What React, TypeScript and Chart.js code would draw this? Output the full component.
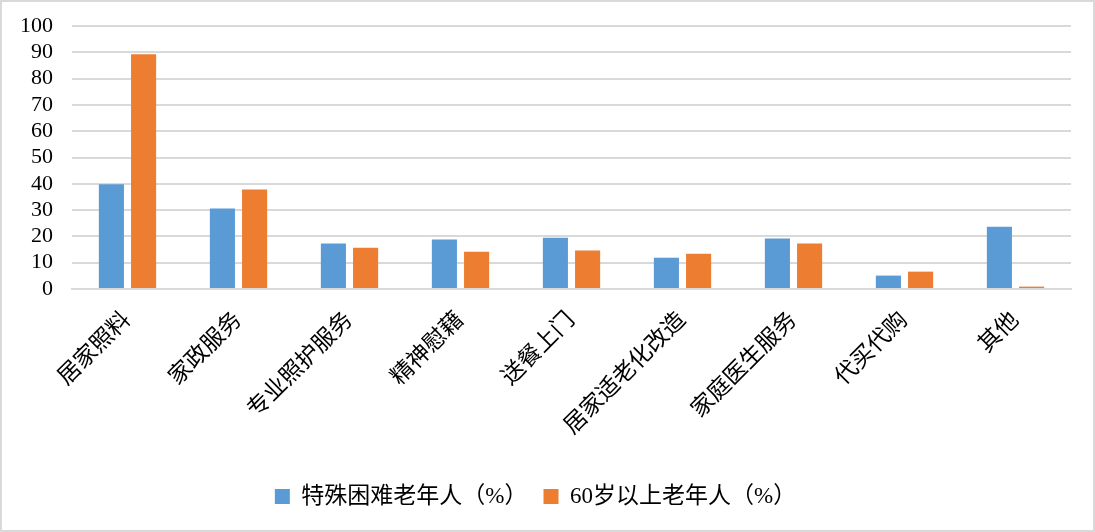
import React, { useEffect, useRef } from "react";
import { Chart, registerables } from "chart.js";

Chart.register(...registerables);

const categories = ["居家照料", "家政服务", "专业照护服务", "精神慰藉", "送餐上门", "居家适老化改造", "家庭医生服务", "代买代购", "其他"];
const seriesNames = ["特殊困难老年人（%）", "60岁以上老年人（%）"];
const specialNeeds = [39.8, 30.6, 17.3, 18.8, 19.5, 11.9, 19.2, 5.1, 23.7];
const over60 = [89.3, 37.8, 15.7, 14.2, 14.6, 13.4, 17.3, 6.6, 0.9];
const yTicks = [0, 10, 20, 30, 40, 50, 60, 70, 80, 90, 100];

const FONT = "'Liberation Serif', 'Times New Roman', 'Noto Sans CJK SC', serif";

const borderPlugin = {
  id: "outerBorder",
  afterDraw(chart: any) {
    const ctx = chart.ctx;
    ctx.save();
    ctx.strokeStyle = "#d9d9d9";
    ctx.lineWidth = 2;
    ctx.strokeRect(1, 1, chart.width - 2, chart.height - 2);
    ctx.restore();
  },
};

export default function App() {
  const ref = useRef<HTMLCanvasElement>(null);
  useEffect(() => {
    document.body.style.margin = "0";
    const chart = new Chart(ref.current!, {
      type: "bar",
      data: {
        labels: categories,
        datasets: [
          { label: seriesNames[0], data: specialNeeds, backgroundColor: "#5B9BD5", barPercentage: 0.78, categoryPercentage: 0.58 },
          { label: seriesNames[1], data: over60, backgroundColor: "#ED7D31", barPercentage: 0.78, categoryPercentage: 0.58 },
        ],
      },
      options: {
        animation: false,
        responsive: false,
        maintainAspectRatio: false,
        layout: { padding: { top: 26, right: 24, bottom: 14, left: 0 } },
        plugins: {
          tooltip: { enabled: false },
          legend: {
            position: "bottom",
            labels: {
              font: { family: FONT, size: 23 },
              color: "#000",
              boxWidth: 15,
              boxHeight: 15,
              padding: 16,
            },
          },
        },
        scales: {
          x: {
            grid: { display: false },
            border: { color: "#d9d9d9", width: 2 },
            ticks: {
              font: { family: FONT, size: 23 },
              color: "#000",
              maxRotation: 45,
              minRotation: 45,
              padding: 10,
              autoSkip: false,
            },
            afterFit(scale: any) {
              scale.height = 180;
            },
          },
          y: {
            min: 0,
            max: 100,
            afterBuildTicks(scale: any) {
              scale.ticks = yTicks.map((v) => ({ value: v }));
            },
            grid: { color: "#d9d9d9", lineWidth: 2, drawTicks: false },
            border: { display: false },
            ticks: {
              font: { family: FONT, size: 22 },
              color: "#000",
              padding: 19,
              autoSkip: false,
            },
            afterFit(scale: any) {
              scale.width = 72;
              scale.paddingTop = 0;
              scale.paddingBottom = 0;
            },
          },
        },
      },
      plugins: [borderPlugin],
    });
    return () => chart.destroy();
  }, []);
  return (
    <div style={{ width: 1095, height: 532 }}>
      <canvas ref={ref} width={1095} height={532} style={{ display: "block" }} />
    </div>
  );
}
